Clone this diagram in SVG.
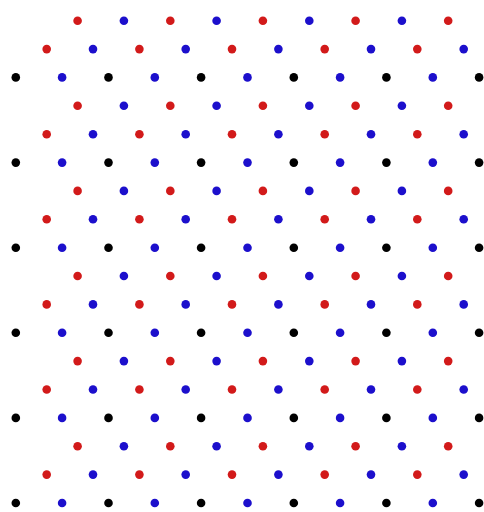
<svg xmlns="http://www.w3.org/2000/svg" xmlns:xlink="http://www.w3.org/1999/xlink" width="484" height="512" viewBox="0 0 484 512">
<style>
.r{fill:#d21a1a}
.b{fill:#1c0fcc}
.k{fill:#000000}
</style>
<defs>
<g id="rowA">
<circle class="r" cx="77.6" cy="0" r="4.3"/>
<circle class="b" cx="123.9" cy="0" r="4.3"/>
<circle class="r" cx="170.3" cy="0" r="4.3"/>
<circle class="b" cx="216.6" cy="0" r="4.3"/>
<circle class="r" cx="262.9" cy="0" r="4.3"/>
<circle class="b" cx="309.3" cy="0" r="4.3"/>
<circle class="r" cx="355.6" cy="0" r="4.3"/>
<circle class="b" cx="401.9" cy="0" r="4.3"/>
<circle class="r" cx="448.2" cy="0" r="4.3"/>
</g>
<g id="rowB">
<circle class="r" cx="46.7" cy="0" r="4.3"/>
<circle class="b" cx="93.0" cy="0" r="4.3"/>
<circle class="r" cx="139.4" cy="0" r="4.3"/>
<circle class="b" cx="185.7" cy="0" r="4.3"/>
<circle class="r" cx="232.0" cy="0" r="4.3"/>
<circle class="b" cx="278.4" cy="0" r="4.3"/>
<circle class="r" cx="324.7" cy="0" r="4.3"/>
<circle class="b" cx="371.0" cy="0" r="4.3"/>
<circle class="r" cx="417.3" cy="0" r="4.3"/>
<circle class="b" cx="463.7" cy="0" r="4.3"/>
</g>
<g id="rowC">
<circle class="k" cx="15.8" cy="0" r="4.3"/>
<circle class="b" cx="62.1" cy="0" r="4.3"/>
<circle class="k" cx="108.5" cy="0" r="4.3"/>
<circle class="b" cx="154.8" cy="0" r="4.3"/>
<circle class="k" cx="201.1" cy="0" r="4.3"/>
<circle class="b" cx="247.5" cy="0" r="4.3"/>
<circle class="k" cx="293.8" cy="0" r="4.3"/>
<circle class="b" cx="340.1" cy="0" r="4.3"/>
<circle class="k" cx="386.4" cy="0" r="4.3"/>
<circle class="b" cx="432.8" cy="0" r="4.3"/>
<circle class="k" cx="479.1" cy="0" r="4.3"/>
</g>
</defs>
<rect width="484" height="512" fill="#ffffff"/>
<g id="lattice">
<use xlink:href="#rowA" href="#rowA" y="20.7"/>
<use xlink:href="#rowB" href="#rowB" y="49.1"/>
<use xlink:href="#rowC" href="#rowC" y="77.4"/>
<use xlink:href="#rowA" href="#rowA" y="105.8"/>
<use xlink:href="#rowB" href="#rowB" y="134.2"/>
<use xlink:href="#rowC" href="#rowC" y="162.6"/>
<use xlink:href="#rowA" href="#rowA" y="190.9"/>
<use xlink:href="#rowB" href="#rowB" y="219.3"/>
<use xlink:href="#rowC" href="#rowC" y="247.7"/>
<use xlink:href="#rowA" href="#rowA" y="276.0"/>
<use xlink:href="#rowB" href="#rowB" y="304.4"/>
<use xlink:href="#rowC" href="#rowC" y="332.8"/>
<use xlink:href="#rowA" href="#rowA" y="361.1"/>
<use xlink:href="#rowB" href="#rowB" y="389.5"/>
<use xlink:href="#rowC" href="#rowC" y="417.9"/>
<use xlink:href="#rowA" href="#rowA" y="446.3"/>
<use xlink:href="#rowB" href="#rowB" y="474.6"/>
<use xlink:href="#rowC" href="#rowC" y="503.0"/>
</g>
</svg>
